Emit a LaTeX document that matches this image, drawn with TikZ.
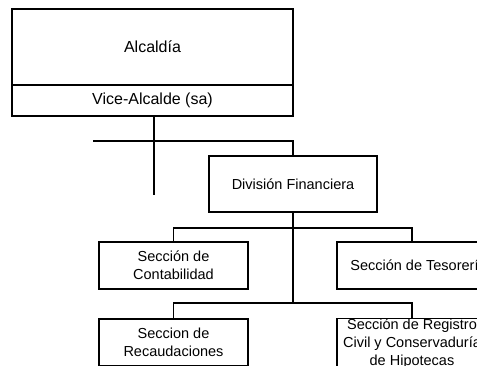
\documentclass[tikz,border=0pt]{standalone}
\usepackage{fontspec}
\setmainfont{Liberation Sans}
\begin{document}
\begin{tikzpicture}[x=1pt,y=-1pt,
  line width=1.2pt,
  unit/.style={draw, line width=1.2pt, inner sep=0pt, align=center,
    font=\fontsize{14.5}{18}\selectfont},
  topunit/.style={unit, font=\fontsize{16}{19}\selectfont},
  link/.style={draw, line width=1.2pt}]
  \path[use as bounding box, fill=white] (0,0) rectangle (477,365);
  \clip (0,0) rectangle (477,365);

  % head of the chart
  \node[topunit, minimum width=281pt, minimum height=76pt] (alc) at (152.5,47) {Alcaldía};
  \node[topunit, minimum width=281pt, minimum height=31pt] (vice) at (152.5,100.5) {Vice-Alcalde (sa)};

  % division and its sections
  \node[unit, minimum width=168pt, minimum height=56pt] (div) at (293,184) {División Financiera};
  \node[unit, minimum width=149pt, minimum height=47pt] (cont) at (173.5,265.5) {Sección de\\Contabilidad};
  \node[unit, minimum width=163pt, minimum height=47pt] (teso) at (418.5,265.5) {Sección de Tesorería};
  \node[unit, minimum width=149pt, minimum height=47pt] (reca) at (173.5,342.5) {Seccion de\\Recaudaciones};
  \node[unit, minimum width=150pt, minimum height=47pt] (regi) at (412,343.5)
        {Sección de Registro\\Civil y Conservaduría\\de Hipotecas};

  % connector end points
  \coordinate (vtail) at (154,195);
  \coordinate (hstart) at (93,141);
  \coordinate (bus1) at (293,228);
  \coordinate (bus2) at (293,303);
  \coordinate (tj) at (412,242);
  \coordinate (rj) at (412,319);

  \draw[link] (vice.south -| vtail) -- (vtail);
  \draw[link] (hstart) -| (div.north);
  \draw[link] (div.south) -- (bus2);
  \draw[link] (cont.north) |- (bus1) -| (tj);
  \draw[link] (reca.north) |- (bus2) -| (rj);
\end{tikzpicture}
\end{document}
